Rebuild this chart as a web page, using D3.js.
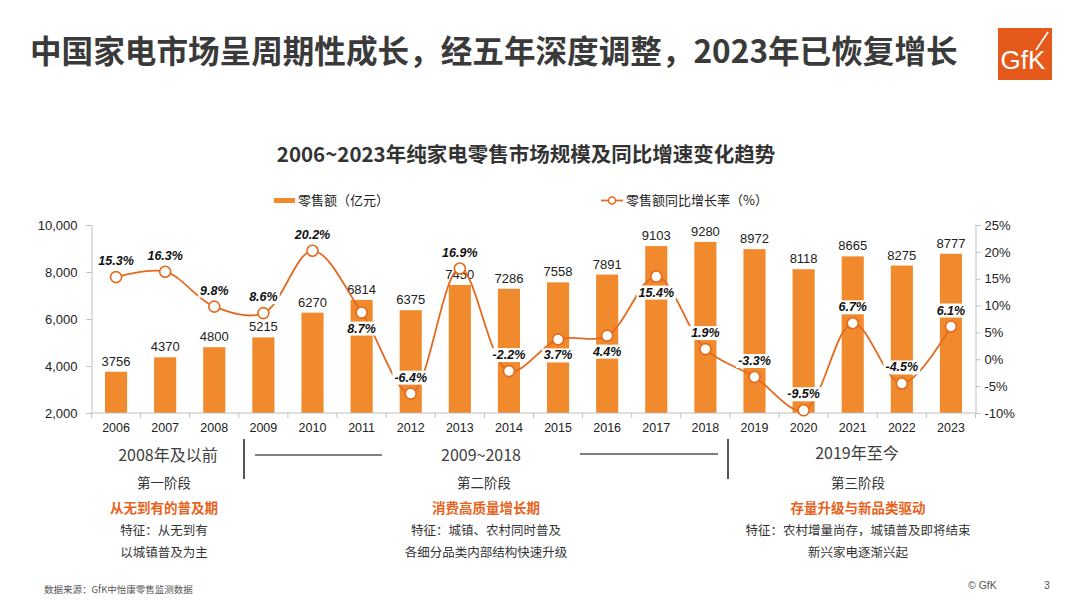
<!DOCTYPE html>
<html><head><meta charset="utf-8">
<script src="https://cdn.jsdelivr.net/npm/d3@7"></script>
<style>
body{margin:0;background:#fff;}
svg text{font-family:"Liberation Sans","Noto Sans CJK SC",sans-serif;}
.cjk{font-family:"Noto Sans CJK SC","Liberation Sans",sans-serif !important;}
</style></head>
<body>
<svg id="c" width="1080" height="607"></svg>
<script>
const years = ["2006","2007","2008","2009","2010","2011","2012","2013","2014","2015","2016","2017","2018","2019","2020","2021","2022","2023"];
const sales = [3756,4370,4800,5215,6270,6814,6375,7450,7286,7558,7891,9103,9280,8972,8118,8665,8275,8777];
const growth = [15.3,16.3,9.8,8.6,20.2,8.7,-6.4,16.9,-2.2,3.7,4.4,15.4,1.9,-3.3,-9.5,6.7,-4.5,6.1];
const labelSide = ["up","up","up","up","up","down","up","up","up","down","down","down","up","up","up","up","up","up"];
const leftTicks = [2000,4000,6000,8000,10000];
const rightTicks = [-10,-5,0,5,10,15,20,25];

const svg = d3.select("#c");
const barColor = "#F08A2C", lineColor = "#E5691E", orangeText = "#E8621A";

// title
svg.append("text").attr("class","cjk").attr("x",30).attr("y",63).attr("font-size",31.6).attr("font-weight","bold").attr("fill","#3a3a3a")
  .text("中国家电市场呈周期性成长，经五年深度调整，2023年已恢复增长");
// logo
svg.append("rect").attr("x",998).attr("y",28).attr("width",54).attr("height",52).attr("fill","#E55A1B");
svg.append("text").attr("x",1023).attr("y",69).attr("text-anchor","middle").attr("font-size",26).attr("fill","#fff").attr("font-family","Liberation Sans").text("GfK");
svg.append("line").attr("x1",1036).attr("y1",50).attr("x2",1048).attr("y2",32).attr("stroke","#fff").attr("stroke-width",1.6);

// subtitle
svg.append("text").attr("class","cjk").attr("x",526).attr("y",162).attr("text-anchor","middle").attr("font-size",20.5).attr("font-weight","bold").attr("fill","#333")
  .text("2006~2023年纯家电零售市场规模及同比增速变化趋势");

// legend
svg.append("rect").attr("x",274).attr("y",198).attr("width",21).attr("height",5).attr("fill",barColor);
svg.append("text").attr("class","cjk").attr("x",298).attr("y",205).attr("font-size",13).attr("fill","#222").text("零售额（亿元）");
svg.append("line").attr("x1",601).attr("x2",623).attr("y1",200.5).attr("y2",200.5).attr("stroke",lineColor).attr("stroke-width",1.8);
svg.append("circle").attr("cx",612).attr("cy",200.5).attr("r",3.5).attr("fill","#fff").attr("stroke",lineColor).attr("stroke-width",1.5);
svg.append("text").attr("class","cjk").attr("x",626).attr("y",205).attr("font-size",13).attr("fill","#222").text("零售额同比增长率（%）");

// scales
const x = d3.scaleBand().domain(years).range([91.5,975.5]).paddingInner(0.55).paddingOuter(0.275);
const xc = d => x(d) + x.bandwidth()/2;
const yL = d3.scaleLinear().domain([2000,10000]).range([413,225]);
const yR = d3.scaleLinear().domain([-10,25]).range([413,225]);

// axes
const axisColor = "#bfbfbf";
const gL = svg.append("g").attr("transform","translate(91.5,0)")
  .call(d3.axisLeft(yL).tickValues(leftTicks).tickSize(5).tickFormat(d3.format(",")));
const gR = svg.append("g").attr("transform","translate(975.5,0)")
  .call(d3.axisRight(yR).tickValues(rightTicks).tickSize(5).tickFormat(d => d + "%"));
[gL,gR].forEach(g=>{
  g.select(".domain").attr("stroke",axisColor);
  g.selectAll(".tick line").attr("stroke",axisColor);
  g.selectAll(".tick text").attr("font-size",13).attr("fill","#222").attr("font-family","Liberation Sans");
});
gL.selectAll(".tick text").attr("x",-14);
gR.selectAll(".tick text").attr("x",9);

// bars
svg.append("g").selectAll("rect").data(years).join("rect")
  .attr("x", d => x(d)).attr("width", x.bandwidth())
  .attr("y", (d,i) => yL(sales[i])).attr("height", (d,i) => yL(2000) - yL(sales[i]))
  .attr("fill", barColor);

// bottom axis
const gB = svg.append("g").attr("transform","translate(0,413)");
gB.append("line").attr("x1",91.5).attr("x2",975.5).attr("stroke",axisColor);
const step = x.step();
gB.selectAll("line.tk").data(d3.range(years.length+1)).join("line").attr("class","tk")
  .attr("x1", i => 91.5 + i*step).attr("x2", i => 91.5 + i*step).attr("y1",0).attr("y2",5).attr("stroke",axisColor);
gB.selectAll("text").data(years).join("text")
  .attr("x", d => xc(d)).attr("y",19).attr("text-anchor","middle").attr("font-size",12.5).attr("fill","#222").text(d=>d);

// value labels
svg.append("g").selectAll("text").data(years).join("text")
  .attr("x", d => xc(d)).attr("y", (d,i) => yL(sales[i]) - 6).attr("text-anchor","middle")
  .attr("font-size",13).attr("fill","#222").text((d,i) => sales[i]);

// line
const pts = years.map((d,i) => [xc(d), yR(growth[i])]);
svg.append("path").attr("d", d3.line().curve(d3.curveCatmullRom.alpha(0.5))(pts))
  .attr("fill","none").attr("stroke",lineColor).attr("stroke-width",1.8);
svg.append("g").selectAll("circle").data(pts).join("circle")
  .attr("cx", d => d[0]).attr("cy", d => d[1]).attr("r",5.5)
  .attr("fill","#fff").attr("stroke",lineColor).attr("stroke-width",1.6);

// pct labels
const lg = svg.append("g");
years.forEach((d,i) => {
  const cy = yR(growth[i]);
  const ty = labelSide[i] === "up" ? cy - 12 : cy + 20;
  const g = lg.append("g");
  const t = g.append("text").attr("x", xc(d)).attr("y", ty).attr("text-anchor","middle")
    .attr("font-size",12.5).attr("font-weight","bold").attr("font-style","italic").attr("fill","#111")
    .text(growth[i].toFixed(1) + "%");
  const bb = t.node().getBBox();
  g.insert("rect","text").attr("x",bb.x-2).attr("y",bb.y).attr("width",bb.width+4).attr("height",bb.height).attr("fill","#fff");
});

// phases
const ph = svg.append("g").attr("class","cjk");
function txt(xp, yp, s, size, color, bold){
  ph.append("text").attr("class","cjk").attr("x",xp).attr("y",yp).attr("text-anchor","middle").attr("font-size",size)
    .attr("fill",color).attr("font-weight",bold?"bold":"normal").text(s);
}
txt(168,461,"2008年及以前",16,"#404040");
txt(481,461,"2009~2018",16,"#404040");
txt(857,459,"2019年至今",16,"#404040");
txt(164,488,"第一阶段",13.5,"#333");
txt(484,488,"第二阶段",13.5,"#333");
txt(858,488,"第三阶段",13.5,"#333");
txt(164,513,"从无到有的普及期",13.5,orangeText,true);
txt(486,513,"消费高质量增长期",13.5,orangeText,true);
txt(858,513,"存量升级与新品类驱动",13.5,orangeText,true);
txt(164,535,"特征：从无到有",12.5,"#333");
txt(164,557,"以城镇普及为主",12.5,"#333");
txt(486,535,"特征：城镇、农村同时普及",12.5,"#333");
txt(486,557,"各细分品类内部结构快速升级",12.5,"#333");
txt(858,535,"特征：农村增量尚存，城镇普及即将结束",12.5,"#333");
txt(858,557,"新兴家电逐渐兴起",12.5,"#333");
svg.append("line").attr("x1",244).attr("x2",244).attr("y1",439).attr("y2",479).attr("stroke","#555").attr("stroke-width",2);
svg.append("line").attr("x1",728).attr("x2",728).attr("y1",439).attr("y2",479).attr("stroke","#555").attr("stroke-width",2);
svg.append("line").attr("x1",255).attr("x2",382).attr("y1",455).attr("y2",455).attr("stroke","#555").attr("stroke-width",1.5);
svg.append("line").attr("x1",580).attr("x2",718).attr("y1",454).attr("y2",454).attr("stroke","#555").attr("stroke-width",1.5);

// footer
svg.append("text").attr("class","cjk").attr("x",44).attr("y",593).attr("font-size",9.5).attr("fill","#555").text("数据来源：GfK中怡康零售监测数据");
svg.append("text").attr("x",968).attr("y",589).attr("font-size",10.5).attr("fill","#555").text("© GfK");
svg.append("text").attr("x",1044).attr("y",589).attr("font-size",10.5).attr("fill","#555").text("3");
</script>
</body></html>
